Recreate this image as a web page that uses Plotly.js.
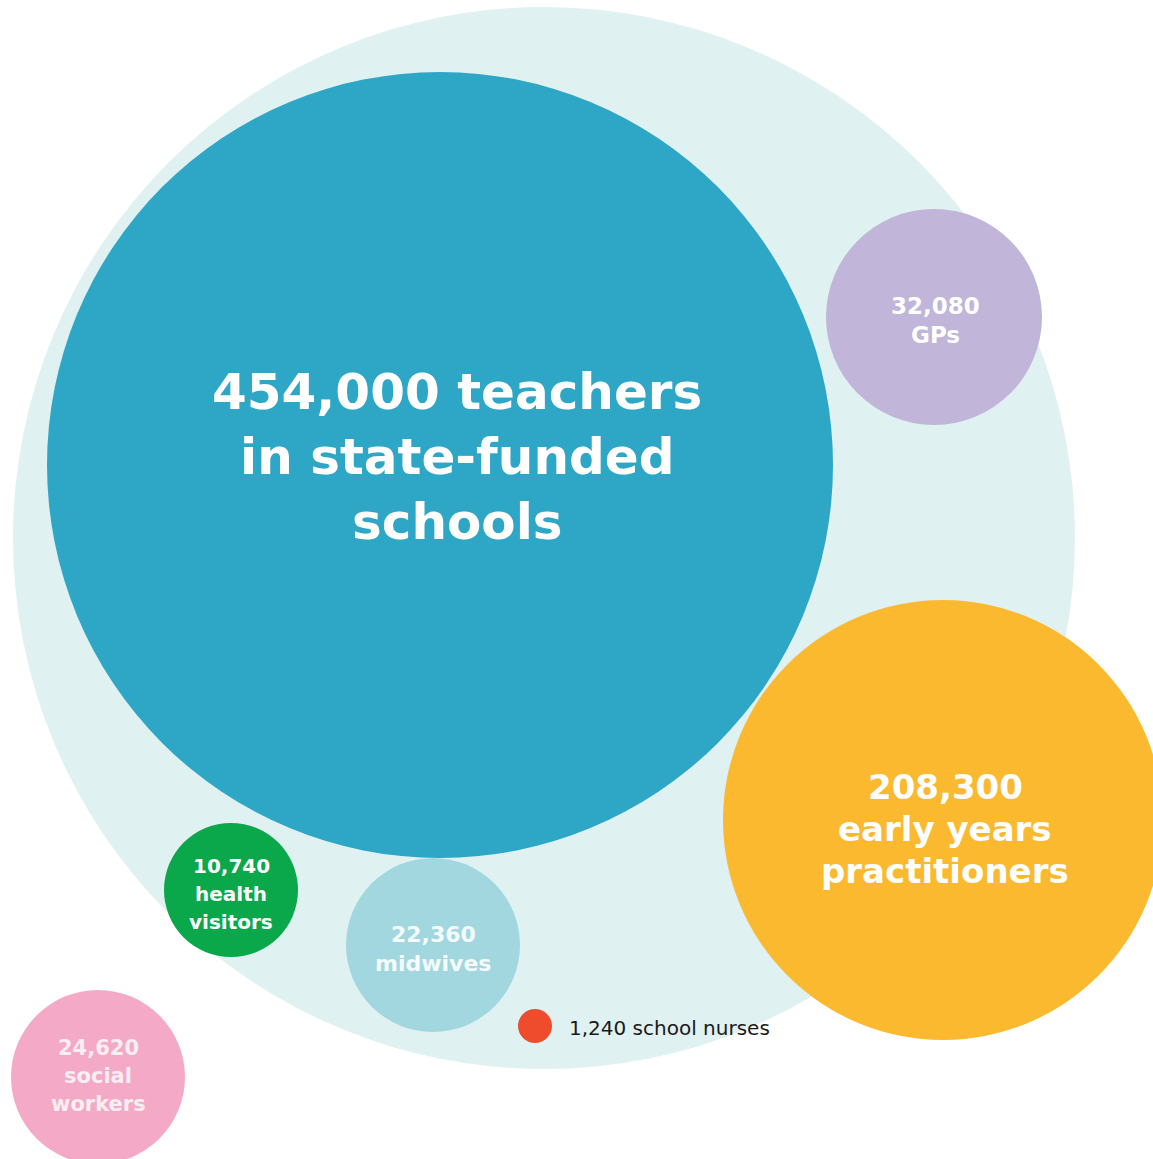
<!DOCTYPE html>
<html>
<head>
<meta charset="utf-8">
<script src="https://cdn.plot.ly/plotly-3.0.1.min.js"></script>
<style>
  html, body { margin: 0; padding: 0; background: #ffffff; }
  #chart { width: 1153px; height: 1159px; }
</style>
</head>
<body>
<div id="chart"></div>
<script>
// ---- data ----
const categories = ['teachers', 'early years practitioners', 'GPs', 'social workers', 'midwives', 'health visitors', 'school nurses'];
const values = [454000, 208300, 32080, 24620, 22360, 10740, 1240];
const labelText = ['teachers<br>in state-funded<br>schools', 'early years<br>practitioners', 'GPs', 'social<br>workers', 'midwives', 'health<br>visitors', 'school nurses'];

// ---- layout (positions / sizes / styles, in pixel-like axis units) ----
const cx = [440, 943, 934, 98, 433, 231, 535];
const cy = [465, 820, 317, 1077, 945, 890, 1026];
const rad = [393, 220, 108, 87, 87, 67, 17];
const fill = ['#2ea6c6', '#fbb930', '#c1b5d9', '#f4a9c7', '#a2d7df', '#0aa84b', '#ee4c2c'];
const sep = [' ', '<br>', '<br>', '<br>', '<br>', '<br>', ' '];
const fontSize = [50, 34, 23, 21, 22, 20, 20];
const lineGap = [65, 42, 29, 28, 29, 28, 0];
const textColor = ['#ffffff', '#ffffff', '#ffffff', '#fbeef3', '#f4fbfc', '#ffffff', '#1a1a1a'];
const textX = [457, 945, 935, 98, 433, 231, 567];
const textY = [457, 829, 320, 1076, 949, 894, 1028];
const anchor = ['center', 'center', 'center', 'center', 'center', 'center', 'left'];
const weight = ['bold', 'bold', 'bold', 'bold', 'bold', 'bold', 'normal'];

const bg = {cx: 544, cy: 538, r: 531, color: '#e0f1f2'};

const fmt = v => v.toLocaleString('en-US');

const shapes = [{
  type: 'circle', xref: 'x', yref: 'y', layer: 'below',
  x0: bg.cx - bg.r, x1: bg.cx + bg.r, y0: bg.cy - bg.r, y1: bg.cy + bg.r,
  fillcolor: bg.color, line: {width: 0}
}];
const annotations = [];
for (let i = 0; i < categories.length; i++) {
  shapes.push({
    type: 'circle', xref: 'x', yref: 'y', layer: 'below',
    x0: cx[i] - rad[i], x1: cx[i] + rad[i], y0: cy[i] - rad[i], y1: cy[i] + rad[i],
    fillcolor: fill[i], line: {width: 0}
  });
  const lines = (fmt(values[i]) + sep[i] + labelText[i]).split('<br>');
  const n = lines.length;
  lines.forEach((ln, k) => {
    annotations.push({
      x: textX[i], y: textY[i] + (k - (n - 1) / 2) * lineGap[i], xref: 'x', yref: 'y',
      text: ln,
      showarrow: false, xanchor: anchor[i], yanchor: 'middle', align: 'center',
      font: {family: '"DejaVu Sans", sans-serif', size: fontSize[i], color: textColor[i], weight: weight[i]}
    });
  });
}

const trace = {
  type: 'scatter', mode: 'markers', x: cx, y: cy,
  text: categories.map((c, i) => fmt(values[i]) + ' ' + c),
  hoverinfo: 'text', marker: {size: 1, opacity: 0}, showlegend: false
};

const layout = {
  width: 1153, height: 1159,
  margin: {l: 0, r: 0, t: 0, b: 0},
  paper_bgcolor: '#ffffff', plot_bgcolor: '#ffffff',
  xaxis: {range: [0, 1153], visible: false, fixedrange: true},
  yaxis: {range: [1159, 0], visible: false, fixedrange: true},
  shapes: shapes,
  annotations: annotations,
  showlegend: false
};

Plotly.newPlot('chart', [trace], layout, {displayModeBar: false, staticPlot: true});
</script>
</body>
</html>
